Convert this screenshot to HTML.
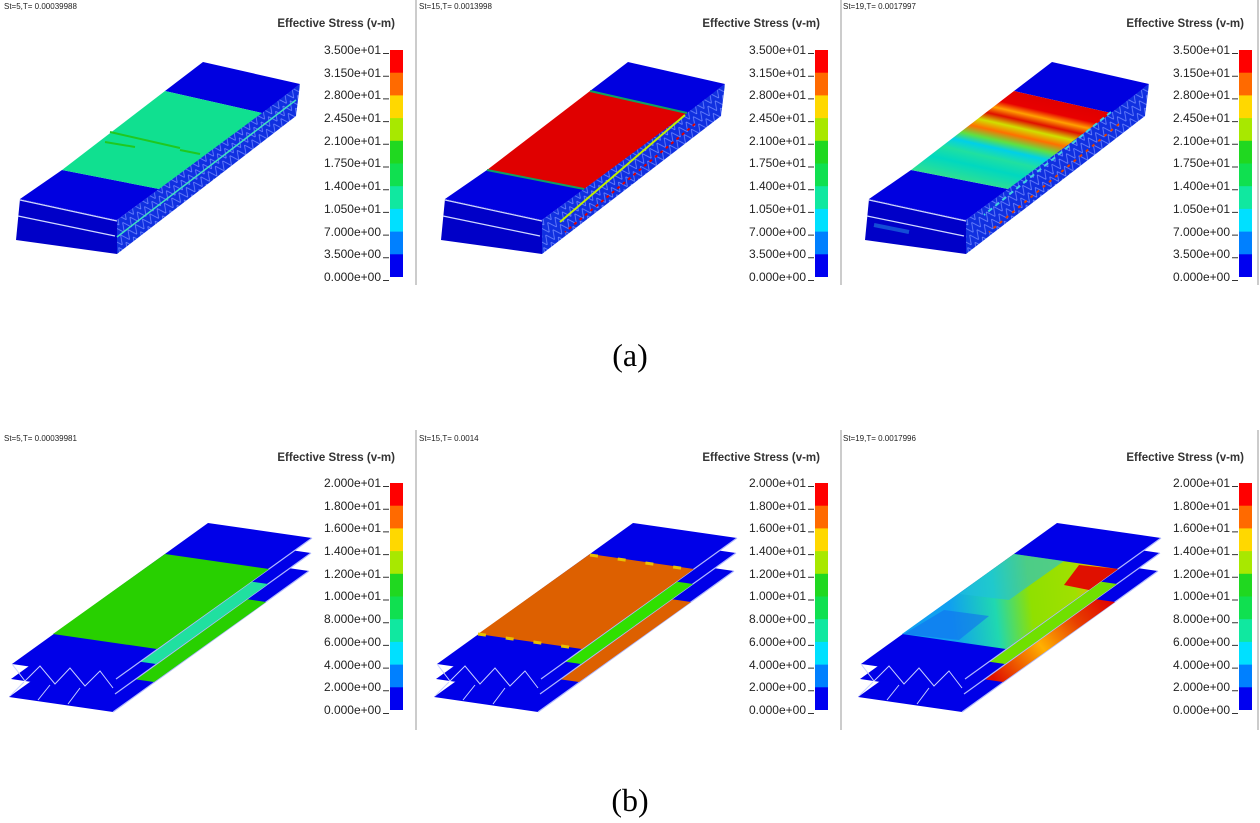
<!DOCTYPE html>
<html><head><meta charset="utf-8"><style>
html,body{margin:0;padding:0;background:#fff;}
svg{display:block;}
.h{font-family:"Liberation Sans",sans-serif;font-size:8px;fill:#222;}
.t{font-family:"Liberation Sans",sans-serif;font-size:11.5px;font-weight:bold;fill:#333;}
.l{font-family:"Liberation Sans",sans-serif;font-size:12px;fill:#222;text-anchor:end;}
.c{font-family:"Liberation Serif",serif;font-size:32px;fill:#000;text-anchor:middle;}
</style></head><body>
<svg width="1260" height="823" viewBox="0 0 1260 823" xmlns="http://www.w3.org/2000/svg">
<defs>
<linearGradient id="g3a" gradientUnits="userSpaceOnUse" x1="213" y1="102" x2="191" y2="199">
<stop offset="0" stop-color="#e00000"/><stop offset=".13" stop-color="#e80000"/><stop offset=".2" stop-color="#ffa000"/>
<stop offset=".27" stop-color="#e01000"/><stop offset=".35" stop-color="#d0e000"/><stop offset=".43" stop-color="#ff7000"/>
<stop offset=".52" stop-color="#60e040"/><stop offset=".6" stop-color="#00d0e8"/><stop offset=".7" stop-color="#20e0a0"/>
<stop offset=".82" stop-color="#00d8c0"/><stop offset="1" stop-color="#30e090"/></linearGradient>
<linearGradient id="g3b" gradientUnits="userSpaceOnUse" x1="100" y1="600" x2="280" y2="580">
<stop offset="0" stop-color="#10a0f0"/><stop offset=".25" stop-color="#20d8b0"/><stop offset=".45" stop-color="#90e000"/>
<stop offset=".7" stop-color="#a0e000"/><stop offset=".85" stop-color="#ffb000"/><stop offset="1" stop-color="#e01000"/></linearGradient>
<linearGradient id="g3b2" gradientUnits="userSpaceOnUse" x1="160" y1="660" x2="270" y2="570">
<stop offset="0" stop-color="#e01000"/><stop offset=".4" stop-color="#ffb000"/><stop offset=".7" stop-color="#e84000"/><stop offset="1" stop-color="#e00000"/></linearGradient>
<pattern id="lat" width="9" height="9" patternUnits="userSpaceOnUse" patternTransform="rotate(-36)">
<rect width="9" height="9" fill="#1030e0"/><path d="M0 9L4.5 0L9 9" stroke="#7088ff" stroke-width="0.8" fill="none"/></pattern>
<g id="cb">
<rect x="390" y="50" width="13" height="23" fill="#ff0000"/>
<rect x="390" y="72.7" width="13" height="23" fill="#ff6a00"/>
<rect x="390" y="95.4" width="13" height="23" fill="#ffd800"/>
<rect x="390" y="118.1" width="13" height="23" fill="#a8e800"/>
<rect x="390" y="140.8" width="13" height="23" fill="#20d820"/>
<rect x="390" y="163.5" width="13" height="23" fill="#10e050"/>
<rect x="390" y="186.2" width="13" height="23" fill="#10e8a0"/>
<rect x="390" y="208.9" width="13" height="23" fill="#00e0ff"/>
<rect x="390" y="231.6" width="13" height="23" fill="#0080ff"/>
<rect x="390" y="254.3" width="13" height="22.7" fill="#0000f0"/>
<path d="M383 53.5h6M383 76.2h6M383 98.9h6M383 121.6h6M383 144.3h6M383 167h6M383 189.7h6M383 212.4h6M383 235.1h6M383 257.8h6M383 280.5h6" stroke="#333" stroke-width="1"/>
</g>
<g id="pa">
<polygon points="300,84 117,220 117,254 296,116" fill="url(#lat)"/>
<polygon points="20,199 117,220 117,254 16,240" fill="#0000c8"/>
<path d="M20,200 L117,221 M18,216 L115,236" stroke="#d0d8ff" stroke-width="1.2"/>
<polygon points="203,62 300,84 262,113 165,91" fill="#0000e0"/>
<polygon points="62,170 159,189 117,220 20,199" fill="#0000e0"/>
</g>
<g id="sh"><polygon points="208,523 312,538 116,679 12,664" fill="#0000e8"/>
<path d="M312,538 L116,679" stroke="#b0b8ff" stroke-width="1.2"/></g>
</defs>
<line x1="416" y1="0" x2="416" y2="285" stroke="#bbb" stroke-width="1.5"/>
<line x1="841" y1="0" x2="841" y2="285" stroke="#bbb" stroke-width="1.5"/>
<line x1="416" y1="430" x2="416" y2="730" stroke="#bbb" stroke-width="1.5"/>
<line x1="841" y1="430" x2="841" y2="730" stroke="#bbb" stroke-width="1.5"/>
<line x1="1258" y1="0" x2="1258" y2="285" stroke="#bbb" stroke-width="1.5"/>
<line x1="1258" y1="430" x2="1258" y2="730" stroke="#bbb" stroke-width="1.5"/>

<!-- Row a -->
<g>
<text class="h" x="4" y="9">St=5,T= 0.00039988</text>
<text class="t" x="395" y="27" text-anchor="end">Effective Stress (v-m)</text>
<use href="#cb"/>
<g class="l"><text x="381" y="54">3.500e+01</text><text x="381" y="77">3.150e+01</text><text x="381" y="99">2.800e+01</text><text x="381" y="122">2.450e+01</text><text x="381" y="145">2.100e+01</text><text x="381" y="167">1.750e+01</text><text x="381" y="190">1.400e+01</text><text x="381" y="213">1.050e+01</text><text x="381" y="236">7.000e+00</text><text x="381" y="258">3.500e+00</text><text x="381" y="281">0.000e+00</text></g>
<use href="#pa"/>
<polygon points="165,91 262,113 159,189 62,170" fill="#10e090"/>
<path d="M110,132 L180,148 M105,142 L135,147 M180,150 L200,154" stroke="#20c820" stroke-width="2"/>
<path d="M296,100 L117,237" stroke="#40e0c0" stroke-width="1.5"/>
</g>
<g transform="translate(425,0)">
<text class="h" x="-6" y="9">St=15,T=   0.0013998</text>
<text class="t" x="395" y="27" text-anchor="end">Effective Stress (v-m)</text>
<use href="#cb"/>
<g class="l"><text x="381" y="54">3.500e+01</text><text x="381" y="77">3.150e+01</text><text x="381" y="99">2.800e+01</text><text x="381" y="122">2.450e+01</text><text x="381" y="145">2.100e+01</text><text x="381" y="167">1.750e+01</text><text x="381" y="190">1.400e+01</text><text x="381" y="213">1.050e+01</text><text x="381" y="236">7.000e+00</text><text x="381" y="258">3.500e+00</text><text x="381" y="281">0.000e+00</text></g>
<use href="#pa"/>
<polygon points="165,91 262,113 159,189 62,170" fill="#e00000"/>
<path d="M165,91 L262,113 M62,170 L159,189" stroke="#10a060" stroke-width="2"/>
<path d="M260,115 L135,222" stroke="#c0f000" stroke-width="2"/>
<path d="M270,124 L140,232" stroke="#e00000" stroke-width="2" stroke-dasharray="3,4"/>
</g>
<g transform="translate(849,0)">
<text class="h" x="-6" y="9">St=19,T=  0.0017997</text>
<text class="t" x="395" y="27" text-anchor="end">Effective Stress (v-m)</text>
<use href="#cb"/>
<g class="l"><text x="381" y="54">3.500e+01</text><text x="381" y="77">3.150e+01</text><text x="381" y="99">2.800e+01</text><text x="381" y="122">2.450e+01</text><text x="381" y="145">2.100e+01</text><text x="381" y="167">1.750e+01</text><text x="381" y="190">1.400e+01</text><text x="381" y="213">1.050e+01</text><text x="381" y="236">7.000e+00</text><text x="381" y="258">3.500e+00</text><text x="381" y="281">0.000e+00</text></g>
<use href="#pa"/>
<polygon points="165,91 262,113 159,189 62,170" fill="url(#g3a)"/>
<path d="M270,124 L140,232" stroke="#e04000" stroke-width="2" stroke-dasharray="3,5"/>
<path d="M262,112 L135,215" stroke="#40d0e0" stroke-width="2" stroke-dasharray="5,4"/>
<path d="M25,225 L60,232" stroke="#2080e0" stroke-width="4" opacity=".6"/>
</g>

<text class="c" x="630" y="366">(a)</text>

<!-- Row b -->
<g>
<text class="h" x="4" y="441">St=5,T= 0.00039981</text>
<text class="t" x="395" y="461" text-anchor="end">Effective Stress (v-m)</text>
<use href="#cb" transform="translate(0,433)"/>
<g class="l"><text x="381" y="487">2.000e+01</text><text x="381" y="510">1.800e+01</text><text x="381" y="532">1.600e+01</text><text x="381" y="555">1.400e+01</text><text x="381" y="578">1.200e+01</text><text x="381" y="600">1.000e+01</text><text x="381" y="623">8.000e+00</text><text x="381" y="646">6.000e+00</text><text x="381" y="669">4.000e+00</text><text x="381" y="691">2.000e+00</text><text x="381" y="714">0.000e+00</text></g>
<g transform="translate(-3,33)"><use href="#sh"/><polygon points="165,554 269,569 157,649 53,634" fill="#28d000"/></g>
<g transform="translate(-1,15)"><use href="#sh"/><polygon points="165,554 269,569 157,649 53,634" fill="#20e0a0"/></g>
<use href="#sh"/><polygon points="165,554 269,569 157,649 53,634" fill="#28d000"/>
<path d="M12,664 L25,681 L40,666 L55,684 L70,668 L85,686 L100,671 L113,688 M10,696 L24,682 M38,700 L50,685 M68,704 L80,688" stroke="#c8d0ff" stroke-width="1" fill="none"/>
</g>
<g transform="translate(425,0)">
<text class="h" x="-6" y="441">St=15,T=      0.0014</text>
<text class="t" x="395" y="461" text-anchor="end">Effective Stress (v-m)</text>
<use href="#cb" transform="translate(0,433)"/>
<g class="l"><text x="381" y="487">2.000e+01</text><text x="381" y="510">1.800e+01</text><text x="381" y="532">1.600e+01</text><text x="381" y="555">1.400e+01</text><text x="381" y="578">1.200e+01</text><text x="381" y="600">1.000e+01</text><text x="381" y="623">8.000e+00</text><text x="381" y="646">6.000e+00</text><text x="381" y="669">4.000e+00</text><text x="381" y="691">2.000e+00</text><text x="381" y="714">0.000e+00</text></g>
<g transform="translate(-3,33)"><use href="#sh"/><polygon points="165,554 269,569 157,649 53,634" fill="#dd6000"/></g>
<g transform="translate(-1,15)"><use href="#sh"/><polygon points="165,554 269,569 157,649 53,634" fill="#30e000"/></g>
<use href="#sh"/><polygon points="165,554 269,569 157,649 53,634" fill="#dd6000"/>
<path d="M165,555 L269,570 M53,634 L157,649" stroke="#e8c000" stroke-width="3" stroke-dasharray="8,20"/>
<path d="M12,664 L25,681 L40,666 L55,684 L70,668 L85,686 L100,671 L113,688 M10,696 L24,682 M38,700 L50,685 M68,704 L80,688" stroke="#c8d0ff" stroke-width="1" fill="none"/>
</g>
<g transform="translate(849,0)">
<text class="h" x="-6" y="441">St=19,T= 0.0017996</text>
<text class="t" x="395" y="461" text-anchor="end">Effective Stress (v-m)</text>
<use href="#cb" transform="translate(0,433)"/>
<g class="l"><text x="381" y="487">2.000e+01</text><text x="381" y="510">1.800e+01</text><text x="381" y="532">1.600e+01</text><text x="381" y="555">1.400e+01</text><text x="381" y="578">1.200e+01</text><text x="381" y="600">1.000e+01</text><text x="381" y="623">8.000e+00</text><text x="381" y="646">6.000e+00</text><text x="381" y="669">4.000e+00</text><text x="381" y="691">2.000e+00</text><text x="381" y="714">0.000e+00</text></g>
<g transform="translate(-3,33)"><use href="#sh"/><polygon points="165,554 269,569 157,649 53,634" fill="url(#g3b2)"/></g>
<g transform="translate(-1,15)"><use href="#sh"/><polygon points="165,554 269,569 157,649 53,634" fill="#70e000"/></g>
<use href="#sh"/><polygon points="165,554 269,569 157,649 53,634" fill="url(#g3b)"/>
<polygon points="165,554 215,561 160,600 110,594" fill="#20c0e0" opacity=".6"/>
<polygon points="95,610 140,616 110,640 55,634" fill="#1070f0" opacity=".6"/>
<polygon points="230,565 269,569 240,590 215,585" fill="#e01000"/>
<path d="M12,664 L25,681 L40,666 L55,684 L70,668 L85,686 L100,671 L113,688 M10,696 L24,682 M38,700 L50,685 M68,704 L80,688" stroke="#c8d0ff" stroke-width="1" fill="none"/>
</g>

<text class="c" x="630" y="811">(b)</text>
</svg>
</body></html>
